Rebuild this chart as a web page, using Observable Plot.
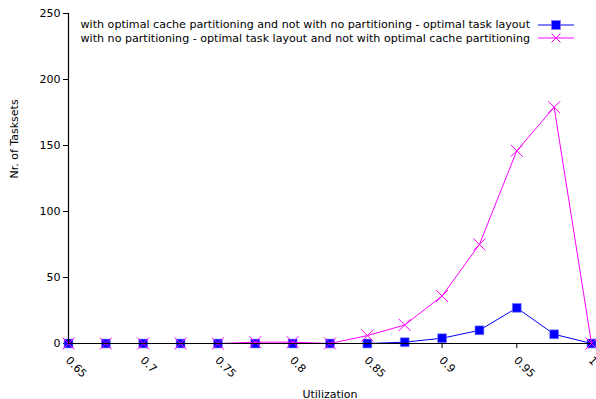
<!DOCTYPE html>
<html><head><meta charset="utf-8">
<script src="https://cdn.jsdelivr.net/npm/d3@7"></script>
<script src="https://cdn.jsdelivr.net/npm/@observablehq/plot@0.6"></script>
<style>
body{margin:0;background:#fff;font-family:"DejaVu Sans",sans-serif;}
#wrap{position:relative;width:596px;height:399px;}
#legend{position:absolute;right:22px;top:18px;font-size:11.1px;color:#000;}
.row{display:flex;align-items:center;justify-content:flex-end;height:13.5px;}
.row svg{margin-left:8px;}
</style>
</head><body>
<div id="wrap"><div id="legend"></div></div>
<script>
const utilization = [0.65,0.675,0.7,0.725,0.75,0.775,0.8,0.825,0.85,0.875,0.9,0.925,0.95,0.975,1.0];
const optimalCacheNotNoPart = [0,0,0,0,0,0,0,0,0,1,4,10,27,7,0];
const noPartNotOptimalCache = [0,0,0,0,0,1,1,0,6,14,36,75,146,179,0];
const seriesNames = [
  "with optimal cache partitioning and not with no partitioning - optimal task layout",
  "with no partitioning - optimal task layout and not with optimal cache partitioning"
];
const xTicks = [0.65,0.7,0.75,0.8,0.85,0.9,0.95,1];
const yTicks = [0,50,100,150,200,250];
const colors = ["#0000ff","#ff00ff"];

const blue = utilization.map((u,i)=>({u, v: optimalCacheNotNoPart[i]}));
const mag = utilization.map((u,i)=>({u, v: noPartNotOptimalCache[i]}));

const chart = Plot.plot({
  width:596, height:399,
  marginLeft:68, marginRight:5, marginTop:13, marginBottom:56,
  style:{fontFamily:"DejaVu Sans, sans-serif", fontSize:"11px", color:"#000", background:"#fff", overflow:"visible"},
  x:{domain:[0.65,1]},
  y:{domain:[0,250]},
  marks:[
    Plot.axisY({ticks:yTicks, tickSize:5, tickPadding:3, label:null, fontSize:11}),
    Plot.axisX({ticks:xTicks, tickSize:5, tickFormat:()=>"", label:null}),
    Plot.text(xTicks, {x:d=>d, frameAnchor:"bottom", text:d=>String(d), rotate:45, textAnchor:"start", lineAnchor:"middle", dx:-1, dy:15, fontSize:11}),
    Plot.text(["Utilization"], {frameAnchor:"bottom", dy:54, text:d=>d, fontSize:11, lineAnchor:"bottom"}),
    Plot.text(["Nr. of Tasksets"], {frameAnchor:"left", dx:-54, text:d=>d, rotate:-90, fontSize:11}),
    Plot.line(blue, {x:"u", y:"v", stroke:colors[0], strokeWidth:1}),
    Plot.dot(blue, {x:"u", y:"v", symbol:"square", r:5, fill:colors[0], stroke:"#8080ff", strokeWidth:0.6}),
    Plot.line(mag, {x:"u", y:"v", stroke:colors[1], strokeWidth:1}),
    Plot.dot(mag, {x:"u", y:"v", symbol:"times", r:5.5, stroke:colors[1], strokeWidth:1}),
    Plot.ruleX([0.65], {stroke:"#000", strokeWidth:1.2}),
    Plot.ruleY([0], {stroke:"#000", strokeWidth:1.2})
  ]
});
document.getElementById("wrap").prepend(chart);

const legend = document.getElementById("legend");
seriesNames.forEach((name,i)=>{
  const row = document.createElement("div");
  row.className = "row";
  const span = document.createElement("span");
  span.textContent = name;
  row.appendChild(span);
  const sym = i===0
    ? `<rect x="13.5" y="2.5" width="9" height="9" fill="${colors[0]}" stroke="#8080ff" stroke-width="0.6"/>`
    : `<path d="M13.5,2.5L22.5,11.5M22.5,2.5L13.5,11.5" stroke="${colors[1]}" stroke-width="1"/>`;
  row.insertAdjacentHTML("beforeend",
    `<svg width="36" height="14"><line x1="0" y1="7" x2="36" y2="7" stroke="${colors[i]}" stroke-width="1"/>${sym}</svg>`);
  legend.appendChild(row);
});
</script>
</body></html>
